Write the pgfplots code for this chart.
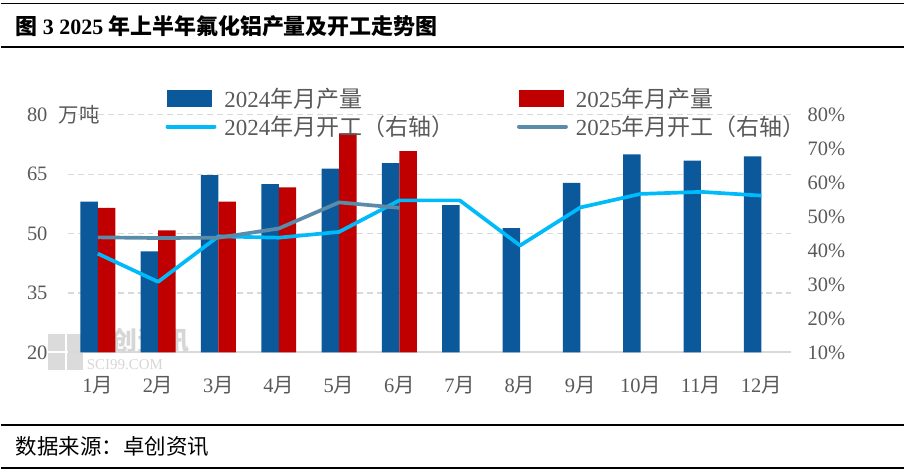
\documentclass[border=0pt]{standalone}
\usepackage{pgfplots}
\pgfplotsset{compat=1.18}
\usepackage{fontspec}
\setmainfont{Liberation Serif}
\newfontfamily\cjk{Noto Sans CJK SC}
\definecolor{barblue}{RGB}{11,88,155}
\definecolor{barred}{RGB}{192,0,0}
\definecolor{lineA}{RGB}{0,186,250}
\definecolor{lineB}{RGB}{90,140,170}
\definecolor{txtgray}{RGB}{89,89,89}
\definecolor{gridgray}{RGB}{217,217,217}
\newcommand{\yue}{{\cjk 月}}
\newcommand{\tickfont}{\fontsize{20.5bp}{24bp}\selectfont}
\begin{document}
\begin{tikzpicture}[x=1bp,y=1bp]
\path (0,0) rectangle (905,-475);
\draw[line width=1.5bp] (0,-3.5) -- (905,-3.5);
\draw[line width=1.5bp] (0,-47) -- (905,-47);
\draw[line width=1.5bp] (0,-425.5) -- (905,-425.5);
\draw[line width=1.5bp] (0,-469) -- (905,-469);
\node[anchor=west, inner sep=0, font=\fontsize{22bp}{24bp}\selectfont\bfseries] at (15,-26)
  {{\cjk 图}\kern5bp 3 2025\kern5bp{\cjk 年上半年氟化铝产量及开工走势图}};
\node[anchor=west, inner sep=0, font=\fontsize{21.5bp}{24bp}\selectfont\cjk] at (15,-447)
  {数据来源：卓创资讯};
% watermark
\fill[gray!28] (47,-335) rectangle (64,-352);
\fill[gray!28] (66,-335) rectangle (82,-352);
\fill[gray!28] (47,-354) rectangle (64,-371);
\fill[gray!28] (66,-354) rectangle (82,-371);
\node[anchor=west, inner sep=0, text=gray!32, font=\fontsize{26bp}{26bp}\selectfont\cjk\bfseries] at (85,-341) {卓创资讯};
\node[anchor=west, inner sep=0, text=gray!32, font=\fontsize{15bp}{15bp}\selectfont] at (86,-365) {SCI99.COM};
% unit label
\node[anchor=west, inner sep=0, text=txtgray, font=\tickfont\cjk] at (58,-115) {万吨};

\begin{axis}[
  at={(67bp,-353bp)}, anchor=south west,
  scale only axis, width=725bp, height=238bp,
  xmin=-0.5, xmax=11.5, ymin=20, ymax=80,
  ybar=0pt, bar width=17.5bp,
  xtick={0,...,11},
  xticklabels={1\yue,2\yue,3\yue,4\yue,5\yue,6\yue,7\yue,8\yue,9\yue,10\yue,11\yue,12\yue},
  ytick={20,35,50,65,80}, yticklabels={20,35,50,65,80},
  axis x line*=bottom, axis y line*=left,
  x axis line style={draw=gridgray, line width=2bp, -},
  y axis line style={draw=none},
  major tick length=0pt,
  ymajorgrids, grid style={draw=gridgray, line width=1.2bp, dash pattern=on 6bp off 4bp},
  tick label style={font=\tickfont, text=txtgray, inner sep=0pt},
  yticklabel style={anchor=east, xshift=-20bp},
  xticklabel style={anchor=center, yshift=-33bp},
]
\addplot[fill=barblue, draw=none] coordinates {
(0,58.1) (1,45.5) (2,64.8) (3,62.5) (4,66.4) (5,67.8)
(6,57.2) (7,51.4) (8,62.8) (9,70.0) (10,68.4) (11,69.5)
};
\addplot[fill=barred, draw=none] coordinates {
(0,56.5) (1,50.8) (2,58.1) (3,61.7) (4,75.3) (5,70.8)
};
\end{axis}

\begin{axis}[
  at={(67bp,-353bp)}, anchor=south west,
  scale only axis, width=725bp, height=238bp,
  xmin=-0.5, xmax=11.5, ymin=10, ymax=80,
  axis x line=none, axis y line*=right,
  y axis line style={draw=none},
  major tick length=0pt,
  ytick={10,20,...,80},
  yticklabels={10\%,20\%,30\%,40\%,50\%,60\%,70\%,80\%},
  yticklabel style={font=\tickfont, text=txtgray, inner sep=0pt, anchor=west, xshift=16bp},
  legend columns=2,
  legend style={at={(0.135,1.113)}, anchor=north west, draw=none, fill=none,
    inner sep=0pt, font=\fontsize{23bp}{26bp}\selectfont, text=txtgray,
    nodes={inner sep=0pt}, row sep=7bp,
    /tikz/every odd column/.append style={column sep=8bp},
    /tikz/every even column/.append style={column sep=63bp}},
  legend cell align=left,
]
\addlegendimage{legend image code/.code={\fill[barblue] (0bp,-8bp) rectangle (44bp,8bp);}}
\addlegendentry{2024{\cjk 年月产量}}
\addlegendimage{legend image code/.code={\fill[barred] (0bp,-8bp) rectangle (44bp,8bp);}}
\addlegendentry{2025{\cjk 年月产量}}
\addplot[color=lineA, line width=3.7bp, line join=round, mark=none,
  legend image code/.code={\draw[lineA, line width=4bp, line cap=round] (0bp,0bp) -- (47bp,0bp);}]
  coordinates {
(0,39.1) (1,30.8) (2,44.2) (3,43.8) (4,45.5) (5,54.8)
(6,54.8) (7,41.5) (8,52.7) (9,56.7) (10,57.3) (11,56.2)
};
\addlegendentry{2024{\cjk 年月开工（右轴）}}
\addplot[color=lineB, line width=3.7bp, line join=round, mark=none,
  legend image code/.code={\draw[lineB, line width=4bp, line cap=round] (0bp,0bp) -- (47bp,0bp);}]
  coordinates {
(0,43.9) (1,43.7) (2,43.8) (3,46.5) (4,54.2) (5,52.6)
};
\addlegendentry{2025{\cjk 年月开工（右轴）}}
\end{axis}
\end{tikzpicture}
\end{document}
